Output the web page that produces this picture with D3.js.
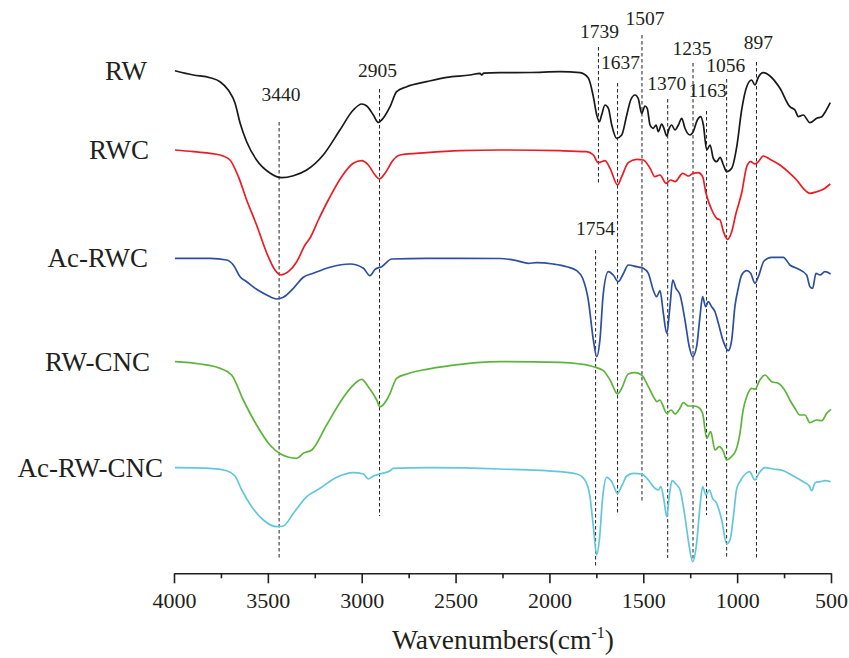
<!DOCTYPE html>
<html><head><meta charset="utf-8">
<script src="https://cdn.jsdelivr.net/npm/d3@7"></script>
<style>
body{margin:0;background:#fff}
svg{display:block}
text{font-family:"Liberation Serif","Times New Roman",serif;fill:#231f20}
</style>
</head><body>
<svg id="chart" width="849" height="658"></svg>
<script>
// ---------------- DATA ----------------
const seriesNames = ["RW", "RWC", "Ac-RWC", "RW-CNC", "Ac-RW-CNC"];
const majorTicks = [4000, 3500, 3000, 2500, 2000, 1500, 1000, 500];
const minorTicks = [3750, 3250, 2750, 2250, 1750, 1250, 750];
const peaks = [3440, 2905, 1739, 1637, 1507, 1370, 1235, 1163, 1056, 897, 1754];

// [wavenumber (cm-1), transmittance (a.u., offset)]
const RW = [[3995,502.3],[3897,498],[3808,495.3],[3755,491.3],[3711,483],[3675,470],[3648,450],[3613,431.3],[3560,413],[3489,400],[3426,395.3],[3364,397.3],[3293,403],[3205,418],[3116,443],[3045,463],[3000,469],[2973,467],[2938,458],[2912,450.7],[2885,455],[2849,466.3],[2814,481.3],[2760,486.3],[2654,491.3],[2547,495.7],[2423,498],[2370,499.7],[2360,498],[2350,499.8],[2263,500.3],[2100,500.5],[1944,501.3],[1837,500.3],[1793,495],[1766,476.3],[1748,458],[1734,451.3],[1722,458],[1704,468],[1686,464.7],[1668,448],[1642,434.7],[1615,438],[1588,458],[1567,473],[1544,478],[1527,474.7],[1509,459.7],[1491,467],[1479,464.7],[1464,448],[1447,444.7],[1432,448],[1420,441.3],[1402,449],[1390,444.7],[1375,437],[1362,444.7],[1349,448],[1331,443],[1313,448],[1295,454.7],[1278,444.7],[1251,438],[1234,441.3],[1212,453],[1194,456.3],[1180,448],[1162,423],[1144,428],[1127,414.7],[1109,411.3],[1091,415.7],[1073,408],[1056,401.3],[1029,404.7],[1002,426.3],[976,463],[949,486.3],[923,493],[905,488],[887,495.7],[861,500.3],[825,497],[772,484.7],[719,466.3],[692,463],[674,456.3],[648,458],[612,450.3],[576,454.7],[549,456.3],[530,461.3],[504,470.3]];

const RWC = [[3995,423],[3897,421.3],[3755,418],[3702,413],[3657,396.3],[3613,373],[3560,348],[3506,320],[3462,303],[3432,298],[3391,301.3],[3346,311.3],[3302,328],[3276,334.7],[3231,353],[3178,373],[3107,396.3],[3045,409.7],[3000,412.3],[2965,408],[2929,398],[2906,394],[2876,399.7],[2832,413],[2796,418],[2654,420.3],[2476,422.3],[2263,423],[1944,422.3],[1802,421.3],[1766,418],[1740,410.3],[1722,411.3],[1704,412.3],[1677,404.7],[1637,388],[1615,396.3],[1580,410.3],[1535,413.7],[1500,413],[1464,404.7],[1438,396.3],[1411,398],[1379,389.7],[1354,393],[1331,391.3],[1290,399.7],[1260,397],[1234,399.7],[1207,400.3],[1184,396.3],[1166,379.7],[1135,363],[1109,354.7],[1091,353],[1073,341.3],[1051,333.7],[1029,341.3],[1006,359.7],[976,380],[949,406.3],[928,411.3],[905,409],[887,411.3],[861,417],[825,413.7],[772,408],[719,399.7],[683,393],[648,384.7],[612,379.7],[576,381.3],[541,383.7],[504,389]];

const AcRWC = [[3995,314.7],[3808,314.7],[3719,313],[3684,308],[3648,296.3],[3613,291.3],[3560,283.7],[3506,278],[3453,274],[3418,275.7],[3364,284.7],[3311,295.7],[3258,299.7],[3169,305.7],[3062,309],[2991,304.7],[2956,297.3],[2929,303.7],[2894,306.3],[2840,314],[2654,314.7],[2263,314.5],[2174,312.3],[2112,309.7],[2070,310.3],[1981,309],[1908,306.3],[1855,302.3],[1823,294.7],[1793,273],[1766,233],[1748,216.3],[1731,233],[1713,279.7],[1686,301.3],[1660,298],[1633,291.3],[1607,299],[1580,308],[1535,306.3],[1500,304.7],[1473,299.7],[1447,283],[1429,276.3],[1411,282.3],[1393,259.7],[1375,239.7],[1358,266.3],[1343,293],[1326,284.7],[1304,278],[1278,253],[1255,226.3],[1237,216.3],[1216,226.3],[1198,256.3],[1184,276.3],[1168,266.3],[1154,271.3],[1136,266.3],[1118,261.3],[1100,249.7],[1073,231.3],[1047,222.3],[1029,233],[1012,266.3],[994,284.7],[976,298],[949,302.3],[928,299.7],[905,289.7],[887,296.3],[857,312],[816,315.7],[754,315.7],[719,308],[683,304.7],[630,298],[612,286.3],[598,284.7],[580,299.7],[559,298],[532,301.3],[502,299]];

const RWCNC = [[3995,211.3],[3861,209],[3755,204.7],[3693,198],[3631,173],[3560,148],[3489,128],[3432,119],[3346,114.7],[3311,119.7],[3266,123],[3187,148],[3107,173],[3053,186.3],[3000,193.7],[2965,186.3],[2920,173],[2903,166.3],[2867,173],[2849,179.7],[2814,194.7],[2760,199],[2654,203.7],[2530,207.3],[2388,210.3],[2263,211.3],[1944,210.7],[1837,209],[1766,206.3],[1713,202.3],[1677,193],[1637,179],[1615,184.7],[1580,199],[1544,200.3],[1509,198],[1473,186.3],[1438,173.7],[1429,171.3],[1411,173],[1397,168],[1375,159.7],[1352,163],[1331,159],[1308,163.7],[1286,170.3],[1260,167],[1234,167],[1207,165.7],[1184,159.7],[1162,134.7],[1141,141.3],[1118,123],[1096,126.3],[1073,121.3],[1056,113],[1034,115.7],[1006,123],[985,139.7],[968,163],[949,176.3],[923,184.7],[905,183.7],[879,193],[852,198],[816,191.3],[781,189.7],[737,179.7],[719,173],[692,164.7],[666,158],[639,158],[612,150.3],[576,153],[549,152.3],[523,159.7],[500,163.7]];

const AcRWCNC = [[3995,105.3],[3808,104.7],[3719,102.3],[3675,97],[3639,83],[3586,66.3],[3524,53],[3453,46.3],[3418,47],[3364,59.7],[3293,76.3],[3222,84.7],[3133,95.7],[3045,100.3],[2991,99],[2965,94],[2938,97],[2903,99],[2849,102.3],[2832,104.7],[2654,105.3],[2263,104],[1944,101.3],[1855,99],[1811,93],[1784,76.3],[1766,46.3],[1748,18],[1734,33],[1716,76.3],[1695,95.7],[1668,91.3],[1637,79.7],[1615,87],[1588,97],[1553,99.7],[1509,99],[1473,93],[1438,84.7],[1420,83],[1406,86.3],[1390,73],[1375,56.3],[1362,76.3],[1347,92.3],[1326,89],[1304,83],[1278,56.3],[1255,26.3],[1237,11.3],[1216,29.7],[1198,66.3],[1184,86.3],[1166,78],[1148,83],[1131,74.7],[1109,69.7],[1082,53],[1056,29],[1038,33],[1020,56.3],[1002,84.7],[980,93],[957,99],[934,101.3],[905,93],[882,100.3],[852,105.3],[808,104],[754,102.3],[701,97],[648,91.3],[616,87],[603,82.3],[584,90.3],[557,91.3],[530,92.3],[502,91.3]];

// ---------------- LAYOUT / STYLE ----------------
const seriesData = [RW, RWC, AcRWC, RWCNC, AcRWCNC];
const seriesColors = ["#1a1a1a", "#ec1c24", "#2d4f9f", "#5cb53a", "#62c7dc"];
const nameDx = [0, 2, 1, 3, 16];          // right-edge offsets of the side labels
// label baseline y, dashed line top, dashed line bottom (px)
const peakLayout = [[101,122,560],[77,89,516],[38,47,183],[69,83,515],[25,35,503],[90,99,558],[55,63,560],[97,111,515],[72,79,559],[49,62,558],[235,250,567]];
const peakLabelDx = [2, -2, 1, 3, 3, -1, -1, 1, -1, 2, 0];

const svg = d3.select("#chart");
const x = d3.scaleLinear().domain([4000, 500]).range([174, 831]);
const y = d3.scaleLinear().domain([0, 573]).range([573, 0]);
const axisY = 573.3;

// dashed peak markers
const pk = svg.append("g");
peaks.forEach((p, i) => {
  const [ly, t, b] = peakLayout[i];
  pk.append("line")
    .attr("x1", x(p)).attr("x2", x(p)).attr("y1", t).attr("y2", b)
    .attr("stroke", "#231f20").attr("stroke-width", 1).attr("stroke-dasharray", "3.5,2.5");
  pk.append("text")
    .attr("x", x(p) + peakLabelDx[i]).attr("y", ly)
    .attr("text-anchor", "middle").attr("font-size", "19.5px")
    .text(p);
});

// spectra
const line = d3.line().x(d => x(d[0])).y(d => y(d[1])).curve(d3.curveMonotoneX);
seriesData.forEach((s, i) => {
  svg.append("path").datum(s)
    .attr("d", line).attr("fill", "none")
    .attr("stroke", seriesColors[i]).attr("stroke-width", 1.7)
    .attr("stroke-linejoin", "round");
  svg.append("text")
    .attr("x", 147 + nameDx[i]).attr("y", y(s[0][1]) + 9)
    .attr("text-anchor", "end").attr("font-size", "27px")
    .text(seriesNames[i]);
});

// x axis
const gx = svg.append("g").attr("transform", `translate(0,${axisY})`)
  .call(d3.axisBottom(x).tickValues(majorTicks).tickSize(10).tickSizeOuter(0).tickFormat(d3.format("d")));
gx.select(".domain").attr("stroke", "#231f20").attr("stroke-width", 1.6);
gx.selectAll(".tick line").attr("stroke", "#231f20").attr("stroke-width", 1.6);
gx.selectAll(".tick text").attr("y", 35).attr("dy", 0)
  .attr("font-size", "22px").attr("font-family", "'Liberation Serif','Times New Roman',serif").attr("fill", "#231f20");

const gm = svg.append("g").attr("transform", `translate(0,${axisY})`)
  .call(d3.axisBottom(x).tickValues(minorTicks).tickSize(5).tickFormat(""));
gm.select(".domain").remove();
gm.selectAll(".tick line").attr("stroke", "#231f20").attr("stroke-width", 1.6);

// axis title
const title = svg.append("text").attr("x", 503).attr("y", 649)
  .attr("text-anchor", "middle").attr("font-size", "27.5px");
title.append("tspan").text("Wavenumbers(cm");
title.append("tspan").attr("font-size", "16px").attr("dy", -11).text("-1");
title.append("tspan").attr("dy", 11).text(")");
</script>
</body></html>
